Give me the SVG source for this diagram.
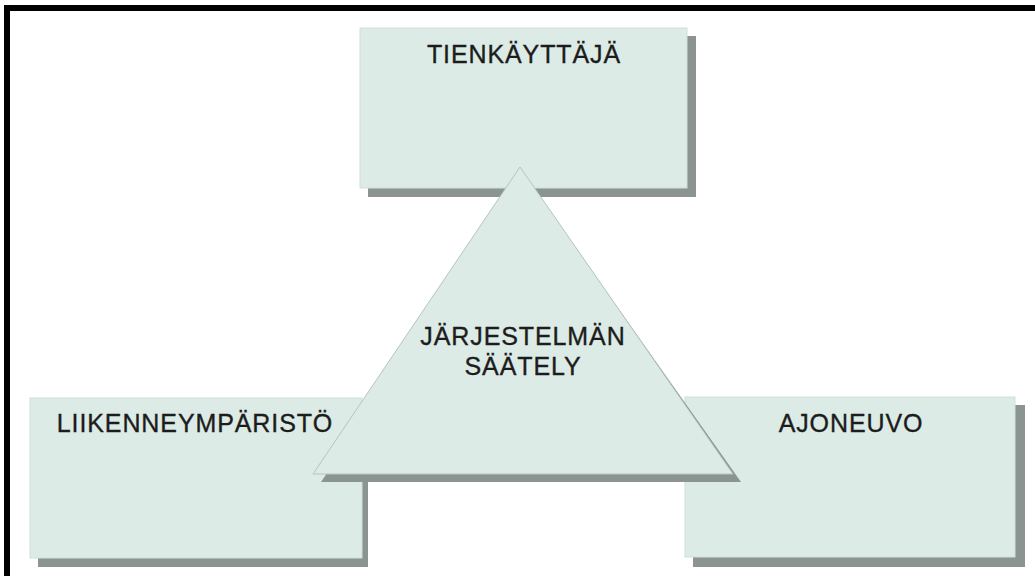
<svg xmlns="http://www.w3.org/2000/svg" width="1035" height="576" viewBox="0 0 1035 576">
  <style>
    .shadow { fill: #8b9491; }
    .box { fill: #dcebe6; stroke: #cfdfda; stroke-width: 1; }
    .tri { fill: #dcebe6; stroke: #b4c4bf; stroke-width: 1; }
    .lbl { font-family: "Liberation Sans", Arial, sans-serif; font-size: 25px; letter-spacing: 0.9px; fill: #1c1c1c; stroke: #1c1c1c; stroke-width: 0.35px; text-anchor: middle; }
    .frame { fill: #000000; }
  </style>
  <rect x="0" y="0" width="1035" height="576" fill="#ffffff"/>
  <g id="frame">
    <rect class="frame" x="4" y="5" width="1031" height="6"/>
    <rect class="frame" x="4" y="5" width="6" height="571"/>
  </g>
  <g id="tienkayttaja">
    <rect class="shadow" x="368" y="36" width="328" height="161"/>
    <rect class="box" x="360" y="28" width="327" height="160"/>
    <text class="lbl" x="524" y="63">TIENKÄYTTÄJÄ</text>
  </g>
  <g id="liikenneymparisto">
    <rect class="shadow" x="38" y="406" width="330" height="161"/>
    <rect class="box" x="30" y="398" width="332" height="160"/>
    <text class="lbl" x="195" y="432">LIIKENNEYMPÄRISTÖ</text>
  </g>
  <g id="ajoneuvo">
    <rect class="shadow" x="693" y="405" width="332" height="162"/>
    <rect class="box" x="685" y="397" width="330" height="160"/>
    <text class="lbl" x="851" y="432">AJONEUVO</text>
  </g>
  <g id="jarjestelman-saately">
    <polygon class="shadow" points="526,178 741,482 321,482"/>
    <polygon class="tri" points="520,167 733,474 313,474"/>
    <text class="lbl" x="523" y="345">JÄRJESTELMÄN</text>
    <text class="lbl" x="523" y="375">SÄÄTELY</text>
  </g>
  <g id="connectors"/>
</svg>
